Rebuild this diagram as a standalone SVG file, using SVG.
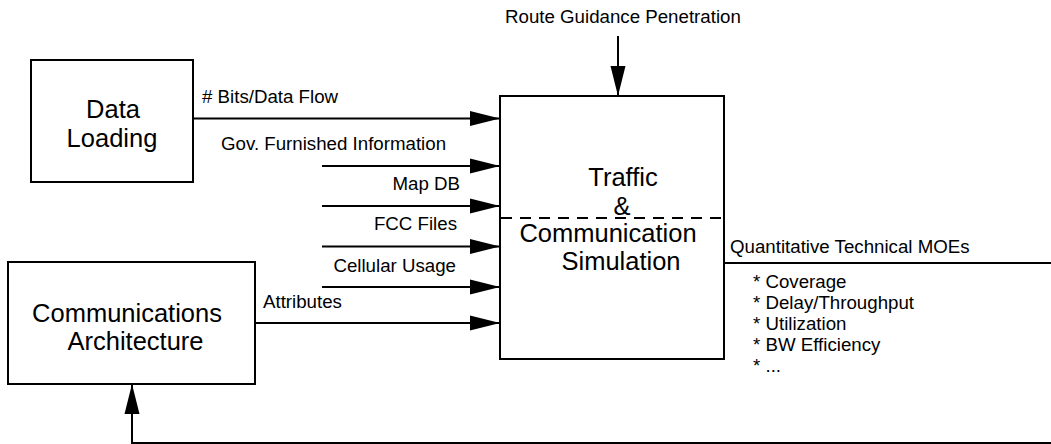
<svg xmlns="http://www.w3.org/2000/svg" width="1051" height="444" viewBox="0 0 1051 444">
<style>
.box{fill:#fff;stroke:#000;stroke-width:2}
.ln{fill:none;stroke:#000;stroke-width:2}
.t{font-family:"Liberation Sans",Arial,sans-serif;fill:#000}
.big{font-size:25.5px;text-anchor:middle}
.lbl{font-size:18.7px}
.end{text-anchor:end}
</style>
<defs>
<marker id="ah" markerUnits="userSpaceOnUse" markerWidth="30" markerHeight="16" refX="30" refY="8" orient="auto">
<path d="M0,0.5 L30,8 L0,15.5 z" fill="#000"/>
</marker>
</defs>
<rect width="1051" height="444" fill="#fff"/>
<g id="connectors">
<line class="ln" x1="193" y1="118.5" x2="500" y2="118.5" marker-end="url(#ah)"/>
<line class="ln" x1="322" y1="166" x2="500" y2="166" marker-end="url(#ah)"/>
<line class="ln" x1="322" y1="206" x2="500" y2="206" marker-end="url(#ah)"/>
<line class="ln" x1="322" y1="246.5" x2="500" y2="246.5" marker-end="url(#ah)"/>
<line class="ln" x1="322" y1="287" x2="500" y2="287" marker-end="url(#ah)"/>
<line class="ln" x1="255" y1="323" x2="500" y2="323" marker-end="url(#ah)"/>
<line class="ln" x1="618" y1="36" x2="618" y2="96" marker-end="url(#ah)"/>
<line class="ln" x1="724" y1="263" x2="1051" y2="263"/>
<path class="ln" d="M1051,443 H132 V384" marker-end="url(#ah)"/>
<text class="t lbl" x="202" y="103"># Bits/Data Flow</text>
<text class="t lbl" x="221" y="150">Gov. Furnished Information</text>
<text class="t lbl end" x="460" y="190">Map DB</text>
<text class="t lbl end" x="457" y="230">FCC Files</text>
<text class="t lbl end" x="456" y="272">Cellular Usage</text>
<text class="t lbl" x="263" y="308">Attributes</text>
<text class="t lbl" x="505" y="23">Route Guidance Penetration</text>
<text class="t lbl" x="730" y="253">Quantitative Technical MOEs</text>
<text class="t lbl" x="753" y="288">* Coverage</text>
<text class="t lbl" x="753" y="309">* Delay/Throughput</text>
<text class="t lbl" x="753" y="330">* Utilization</text>
<text class="t lbl" x="753" y="351">* BW Efficiency</text>
<text class="t lbl" x="753" y="372">* ...</text>
</g>
<g id="data-loading">
<rect class="box" x="31" y="60" width="162" height="122"/>
<text class="t big" x="113" y="118">Data</text>
<text class="t big" x="112" y="147">Loading</text>
</g>
<g id="comm-arch">
<rect class="box" x="8" y="262" width="247" height="122"/>
<text class="t big" x="127" y="322">Communications</text>
<text class="t big" x="135.5" y="350">Architecture</text>
</g>
<g id="simulation">
<rect class="box" x="500" y="96" width="224" height="263" fill="none" style="fill:none"/>
<line x1="501" y1="218" x2="723" y2="218" stroke="#000" stroke-width="2" stroke-dasharray="11 8"/>
<text class="t big" x="623" y="186">Traffic</text>
<text class="t big" x="622" y="215">&amp;</text>
<text class="t big" x="608" y="242">Communication</text>
<text class="t big" x="621" y="270">Simulation</text>
</g>
</svg>
